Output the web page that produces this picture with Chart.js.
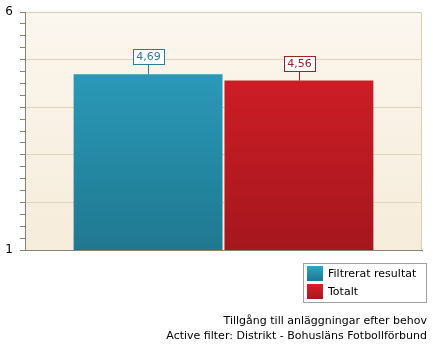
<!DOCTYPE html>
<html>
<head>
<meta charset="utf-8">
<script src="https://cdn.jsdelivr.net/npm/chart.js@4.4.1/dist/chart.umd.min.js"></script>
<style>
  html, body { margin: 0; padding: 0; background: #ffffff; }
  #wrap { width: 433px; height: 348px; position: relative; }
</style>
</head>
<body>
<div id="wrap"><canvas id="c" width="433" height="348"></canvas></div>
<script>
// Chart data
const categories = ['Tillgång till anläggningar efter behov'];
const seriesNames = ['Filtrerat resultat', 'Totalt'];
const filtreratValues = [4.69];
const totaltValues = [4.56];
const yMin = 1;
const yMax = 6;
const titleLines = ['Tillgång till anläggningar efter behov', 'Active filter: Distrikt - Bohusläns Fotbollförbund'];

const FONT = '"DejaVu Sans", Verdana, sans-serif';

const palette = [
  { top: '#2ea5c6', bottom: '#1f7890', edge: '#2b7d8c' },
  { top: '#dc1f28', bottom: '#a5171e', edge: '#9c1f2a' }
];

function barGradient(ctx, area, p) {
  const g = ctx.createLinearGradient(0, area.top, 0, area.bottom);
  g.addColorStop(0, p.top);
  g.addColorStop(1, p.bottom);
  return g;
}

// Cream plot background with tan top/right border
const plotBackground = {
  id: 'plotBackground',
  beforeDraw(chart) {
    const { ctx, chartArea: a } = chart;
    ctx.save();
    const g = ctx.createLinearGradient(0, a.top, 0, a.bottom);
    g.addColorStop(0, '#fbf6ee');
    g.addColorStop(1, '#f6ecda');
    ctx.fillStyle = g;
    ctx.fillRect(a.left, a.top, a.right - a.left, a.bottom - a.top);
    ctx.strokeStyle = '#d9cdb3';
    ctx.lineWidth = 1;
    ctx.beginPath();
    ctx.moveTo(a.left, a.top + 0.5);
    ctx.lineTo(a.right - 0.5, a.top + 0.5);
    ctx.lineTo(a.right - 0.5, a.bottom);
    ctx.stroke();
    ctx.restore();
  }
};

// Boxed value labels above each bar
const valueLabels = {
  id: 'valueLabels',
  afterDatasetsDraw(chart) {
    const { ctx } = chart;
    ctx.save();
    ctx.font = '11px ' + FONT;
    ctx.textAlign = 'center';
    ctx.textBaseline = 'middle';
    chart.data.datasets.forEach((ds, di) => {
      const meta = chart.getDatasetMeta(di);
      meta.data.forEach((bar, i) => {
        const v = ds.data[i];
        const txt = v.toFixed(2).replace('.', ',');
        const color = palette[di].edge;
        const x = Math.round(bar.x) + 0.5;
        const yTop = bar.y;
        const w = Math.ceil(ctx.measureText(txt).width) + 6;
        const h = 15;
        const by = Math.round(yTop - 10 - h) + 0.5;
        const bx = Math.round(x - w / 2) + 0.5;
        ctx.strokeStyle = color;
        ctx.lineWidth = 1;
        ctx.beginPath();
        ctx.moveTo(x, by + h);
        ctx.lineTo(x, yTop);
        ctx.stroke();
        ctx.fillStyle = '#ffffff';
        ctx.fillRect(bx, by, w, h);
        ctx.strokeRect(bx, by, w, h);
        ctx.fillStyle = color;
        ctx.fillText(txt, x, by + h / 2 + 0.5);
      });
    });
    ctx.restore();
  }
};

// Legend box and caption lines in the lower right
const legendAndCaption = {
  id: 'legendAndCaption',
  afterDraw(chart) {
    const { ctx } = chart;
    ctx.save();
    ctx.font = '11px ' + FONT;
    const lx = 303.5, ly = 263.5, lw = 123, lh = 39;
    ctx.fillStyle = '#ffffff';
    ctx.fillRect(lx, ly, lw, lh);
    ctx.strokeStyle = '#a0a0a0';
    ctx.lineWidth = 1;
    ctx.strokeRect(lx, ly, lw, lh);
    chart.data.datasets.forEach((ds, di) => {
      const sy = 266 + di * 18;
      const g = ctx.createLinearGradient(0, sy, 0, sy + 15);
      g.addColorStop(0, palette[di].top);
      g.addColorStop(1, palette[di].bottom);
      ctx.fillStyle = g;
      ctx.fillRect(307, sy, 16, 15);
      ctx.fillStyle = '#000000';
      ctx.textAlign = 'left';
      ctx.textBaseline = 'middle';
      ctx.fillText(ds.label, 328, sy + 8);
    });
    ctx.fillStyle = '#000000';
    ctx.textAlign = 'right';
    ctx.textBaseline = 'middle';
    titleLines.forEach((t, i) => ctx.fillText(t, 427, 321 + i * 15));
    ctx.restore();
  }
};

new Chart(document.getElementById('c'), {
  type: 'bar',
  data: {
    labels: categories,
    datasets: [
      {
        label: seriesNames[0],
        data: filtreratValues,
        backgroundColor: (c) => c.chart.chartArea ? barGradient(c.chart.ctx, c.chart.chartArea, palette[0]) : palette[0].top,
        categoryPercentage: 0.76,
        barPercentage: 0.987
      },
      {
        label: seriesNames[1],
        data: totaltValues,
        backgroundColor: (c) => c.chart.chartArea ? barGradient(c.chart.ctx, c.chart.chartArea, palette[1]) : palette[1].top,
        categoryPercentage: 0.76,
        barPercentage: 0.987
      }
    ]
  },
  options: {
    responsive: false,
    animation: false,
    devicePixelRatio: 1,
    layout: { padding: { top: 12, right: 11, bottom: 98, left: 0 } },
    plugins: {
      legend: { display: false },
      title: { display: false },
      tooltip: { enabled: false }
    },
    scales: {
      x: {
        ticks: { display: false },
        grid: { display: false, drawTicks: false },
        border: { display: true, color: '#8a8275', width: 1 },
        afterFit(s) { s.height = 0; s.paddingLeft = 0; s.paddingRight = 0; }
      },
      y: {
        min: yMin,
        max: yMax,
        ticks: {
          stepSize: 0.25,
          autoSkip: false,
          padding: 7,
          color: '#000000',
          font: { family: FONT, size: 12 },
          callback: (v) => (v === yMin || v === yMax) ? String(v) : ''
        },
        grid: {
          tickLength: 5,
          color: (c) => (Number.isInteger(c.tick.value) && c.tick.value !== yMin && c.tick.value !== yMax) ? '#e0d3bb' : 'rgba(0,0,0,0)',
          tickColor: '#8a8275'
        },
        border: { display: true, color: '#8a8275', width: 1 },
        afterFit(s) { s.width = 25; s.paddingTop = 0; s.paddingBottom = 0; }
      }
    }
  },
  plugins: [plotBackground, valueLabels, legendAndCaption]
});
</script>
</body>
</html>
